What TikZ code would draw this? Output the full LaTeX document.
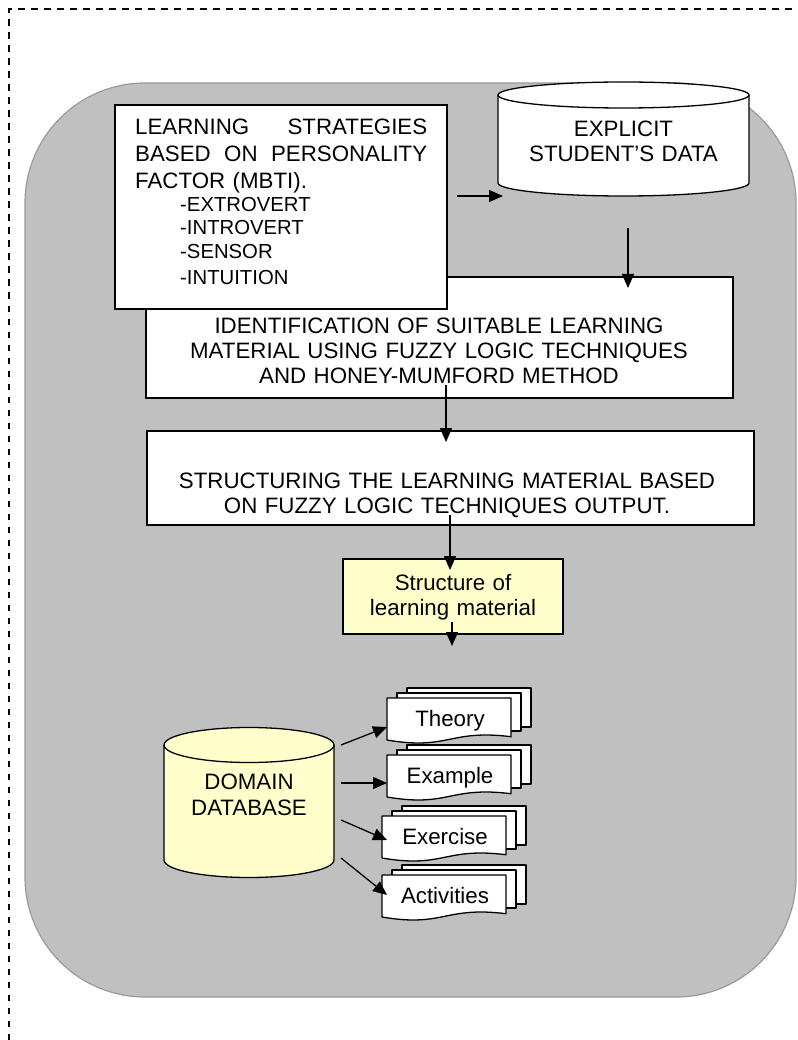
\documentclass[tikz,border=0pt]{standalone}
\usepackage{fontspec}
\setmainfont{Liberation Sans}
\usetikzlibrary{arrows.meta,calc}

\definecolor{panelgray}{HTML}{C0C0C0}
\definecolor{paneledge}{HTML}{9A9A9A}
\definecolor{paleyellow}{HTML}{FFFFCC}

\newcommand\lblfont{\fontsize{22.3pt}{25pt}\selectfont}
\newcommand\itemfont{\fontsize{20.3pt}{23.3pt}\selectfont}

\tikzset{
  frameline/.style={line width=1.4pt, dash pattern=on 6.5pt off 6.5pt},
  panel/.style={fill=panelgray, draw=paneledge, line width=1.2pt, rounded corners=120pt},
  stepbox/.style={draw=black, fill=white, line width=1.3pt, inner sep=0pt},
  notebox/.style={stepbox, fill=paleyellow},
  drum/.style={draw=black, line width=1.3pt},
  page/.style={draw=black, fill=white, line width=1.3pt, line join=round},
  txt/.style={inner sep=0pt, font=\lblfont},
  flow/.style={line width=1.3pt, -{Triangle[length=14pt,width=12pt]}},
}

% stack of three pages; front page has a wavy lower edge
% #1 name, #2 x of front page, #3 y of front page, #4 label
\newcommand\docstack[4]{%
  \draw[page] ({#2+20},{#3-10}) rectangle ({#2+144},{#3+29});
  \draw[page] ({#2+10},{#3-5}) rectangle ({#2+134},{#3+33});
  \draw[page] (#2,#3) -- ({#2+124},#3) -- ({#2+124},{#3+38.7})
     .. controls ({#2+62},{#3+31}) and ({#2+62},{#3+52.6}) .. (#2,{#3+42}) -- cycle;
  \node[txt, anchor=base] (#1) at ({#2+63},{#3+28}) {#4};
}

\begin{document}
\begin{tikzpicture}[x=1pt,y=-1pt]
\useasboundingbox (0,0) rectangle (797,1040);

% outer dashed frame
\draw[frameline] (9,1040) -- (9,9) -- (797,9);

% grey panel
\draw[panel] (25,83) rectangle (796,997);

% identification step (partly covered by the strategies box)
\node[stepbox, minimum width=587pt, minimum height=121pt] (ident) at (439.5,337.5) {};
\node[txt, text width=570pt, align=center, anchor=base] (ident-text) at (439,333)
  {IDENTIFICATION OF SUITABLE LEARNING\\
   MATERIAL USING FUZZY LOGIC TECHNIQUES\\
   AND HONEY-MUMFORD METHOD};

% learning strategies box: heading lines, then the indented list
\node[stepbox, minimum width=332pt, minimum height=204pt] (strat) at (281,207) {};
\node[txt, text width=292pt, align=left, anchor=base west,
      font=\fontsize{22.3pt}{26.7pt}\selectfont] (strat-text) at (135,135)
  {LEARNING\hfill STRATEGIES\\
   BASED\hfill ON\hfill PERSONALITY\\
   FACTOR (MBTI).\\
   \itemfont\hspace*{45pt}-EXTROVERT\\
   \hspace*{45pt}-INTROVERT\\
   \hspace*{45pt}-SENSOR\\
   \hspace*{45pt}-INTUITION};

% explicit student's data store
\path[drum, fill=white] (498,95) -- (498,183)
  arc[start angle=180, end angle=360, x radius=125.5pt, y radius=13pt] -- (749,95)
  arc[start angle=0, end angle=180, x radius=125.5pt, y radius=13pt] -- cycle;
\draw[drum] (498,95) arc[start angle=180, end angle=360, x radius=125.5pt, y radius=13pt];
\node[txt, text width=240pt, align=center, anchor=base] (explicit) at (623.5,137)
  {EXPLICIT\\STUDENT’S DATA};

% structuring step
\node[stepbox, minimum width=607pt, minimum height=94pt] (struct) at (450.5,478) {};
\node[txt, text width=590pt, align=center, anchor=base] (struct-text) at (447,488)
  {STRUCTURING THE LEARNING MATERIAL BASED\\
   ON FUZZY LOGIC TECHNIQUES OUTPUT.};

% structure of learning material
\node[notebox, minimum width=220pt, minimum height=75pt] (structure) at (453,596.5) {};
\node[txt, text width=210pt, align=center, anchor=base] (structure-text) at (453,590)
  {Structure of\\learning material};

% domain database
\path[drum, fill=paleyellow] (164,745) -- (164,860)
  arc[start angle=180, end angle=360, x radius=85pt, y radius=17.5pt] -- (334,745)
  arc[start angle=0, end angle=180, x radius=85pt, y radius=17.5pt] -- cycle;
\draw[drum] (164,745) arc[start angle=180, end angle=360, x radius=85pt, y radius=17.5pt];
\node[txt, text width=160pt, align=center, anchor=base,
      font=\fontsize{22.3pt}{26pt}\selectfont] (domain) at (249,789)
  {DOMAIN\\DATABASE};

% learning material pages
\docstack{theory}{387}{698}{Theory}
\docstack{example}{387}{755}{Example}
\docstack{exercise}{382}{816}{Exercise}
\docstack{activities}{382}{875}{Activities}

% connector end points
\coordinate (strat-out) at (457,196);
\coordinate (explicit-in) at (503,196);
\coordinate (explicit-out) at (628,228);
\coordinate (ident-in) at (628,288);
\coordinate (ident-out) at (446,385);
\coordinate (struct-in) at (446,442);
\coordinate (struct-out) at (450,515);
\coordinate (structure-in) at (450,570);
\coordinate (structure-out) at (452,622);
\coordinate (structure-end) at (452,646);
\coordinate (db-o1) at (341,745);
\coordinate (db-o2) at (341,783);
\coordinate (db-o3) at (341,820);
\coordinate (db-o4) at (341,858);
\coordinate (theory-in) at (387,727);
\coordinate (example-in) at (387,783);
\coordinate (exercise-in) at (387,840);
\coordinate (activities-in) at (387,895);

\draw[flow] (strat-out) -- (explicit-in);
\draw[flow] (explicit-out) -- (ident-in);
\draw[flow] (ident-out) -- (struct-in);
\draw[flow] (struct-out) -- (structure-in);
\draw[flow] (structure-out) -- (structure-end);
\draw[flow] (db-o1) -- (theory-in);
\draw[flow] (db-o2) -- (example-in);
\draw[flow] (db-o3) -- (exercise-in);
\draw[flow] (db-o4) -- (activities-in);
\end{tikzpicture}
\end{document}
